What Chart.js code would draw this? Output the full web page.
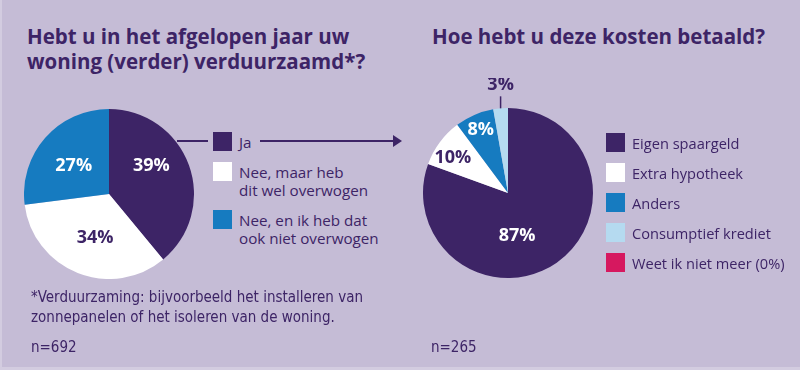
<!DOCTYPE html>
<html>
<head>
<meta charset="utf-8">
<script src="https://cdn.jsdelivr.net/npm/chart.js@4/dist/chart.umd.min.js"></script>
<style>
  html, body { margin: 0; padding: 0; }
  body {
    width: 800px; height: 370px; position: relative; overflow: hidden;
    background: #c5bcd6; font-family: "Open Sans", Lato, sans-serif; color: #3d2466;
  }
  .edge-l { position: absolute; left: 0; top: 0; width: 2px; height: 370px; background: #d3cce0; }
  .edge-b { position: absolute; left: 0; bottom: 0; width: 800px; height: 3px; background: #d3cce0; }
  .title { position: absolute; font-weight: 700; font-size: 20.5px; line-height: 25px; }
  .legend { position: absolute; display: flex; flex-direction: column; }
  .item { display: flex; align-items: flex-start; line-height: 18px; }
  .sw { width: 19px; height: 19px; flex: none; margin-right: 7px; }
  .item span { padding-top: 1px; }
  .note { position: absolute; font-family: "Liberation Sans Narrow", "DejaVu Sans Condensed", sans-serif; font-size: 15px; line-height: 20px; }
  canvas { position: absolute; }
</style>
</head>
<body>
<div class="edge-l"></div>
<div class="edge-b"></div>

<div class="title" style="left:27px; top:24px;">Hebt u in het afgelopen jaar uw<br>woning (verder) verduurzaamd*?</div>
<div class="title" style="left:432px; top:24px;">Hoe hebt u deze kosten betaald?</div>

<div style="position:absolute; left:393px; top:78px; width:230px; height:230px;"><canvas id="pieRight" width="230" height="230"></canvas></div>
<div style="position:absolute; left:24px; top:109px; width:170px; height:170px;"><canvas id="pieLeft" width="170" height="170"></canvas></div>

<div class="legend" id="legendLeft" style="left:213px; top:132px; gap:11px; font-size:15.2px;"></div>
<div class="legend" id="legendRight" style="left:606px; top:133px; gap:11px; font-size:14.6px;"></div>

<svg width="800" height="370" style="position:absolute; left:0; top:0; pointer-events:none;">
  <line x1="177" y1="141" x2="208" y2="141" stroke="#3d2466" stroke-width="2"/>
  <line x1="260" y1="141" x2="394" y2="141" stroke="#3d2466" stroke-width="2"/>
  <polygon points="393,135 402,141 393,147" fill="#3d2466"/>
</svg>

<div class="note" style="left:31px; top:287px;">*Verduurzaming: bijvoorbeeld het installeren van<br>zonnepanelen of het isoleren van de woning.</div>
<div class="note" style="left:31px; top:337px;">n=692</div>
<div class="note" style="left:431px; top:337px;">n=265</div>

<script>
// left question: did you make your home more sustainable
const leftLabels = ["Ja", "Nee, maar heb\ndit wel overwogen", "Nee, en ik heb dat\nook niet overwogen"];
const leftValues = [39, 34, 27];
const leftColors = ["#3d2466", "#ffffff", "#167bc0"];

// right question: how were the costs paid
const rightLabels = ["Eigen spaargeld", "Extra hypotheek", "Anders", "Consumptief krediet", "Weet ik niet meer (0%)"];
const rightValues = [87, 10, 8, 3, 0];
const rightColors = ["#3d2466", "#ffffff", "#167bc0", "#b5daf0", "#d6185f"];

const DARK = "#3d2466";

// where each % label sits (fraction of radius, angle nudge in degrees)
const labelPlace = {
  pieLeft: [
    { r: 0.6, shift: -14, color: "#ffffff" },
    { r: 0.54, shift: -4, color: DARK },
    { r: 0.53, shift: -3, color: "#ffffff" }
  ],
  pieRight: [
    { r: 0.52, shift: 23, color: "#ffffff" },
    { r: 0.77, shift: -4, color: DARK },
    { r: 0.81, shift: 0, color: "#ffffff" },
    { outside: true }
  ]
};

// draws the % labels on the slices
const sliceLabels = {
  id: "sliceLabels",
  afterDraw(chart) {
    const ctx = chart.ctx;
    const meta = chart.getDatasetMeta(0);
    const values = chart.data.datasets[0].data;
    const place = labelPlace[chart.canvas.id];
    ctx.save();
    ctx.font = "bold 18px 'Open Sans', sans-serif";
    ctx.textAlign = "center";
    ctx.textBaseline = "middle";
    meta.data.forEach((arc, i) => {
      const p = place[i];
      if (!p) return;
      const a = arc.getProps(["x", "y", "startAngle", "endAngle", "outerRadius"], true);
      const mid = (a.startAngle + a.endAngle) / 2 + (p.shift || 0) * Math.PI / 180;
      const txt = values[i] + "%";
      if (p.outside) {
        const x0 = a.x + Math.cos(mid) * a.outerRadius;
        const y0 = a.y + Math.sin(mid) * a.outerRadius;
        ctx.strokeStyle = DARK;
        ctx.lineWidth = 1.5;
        ctx.beginPath();
        ctx.moveTo(x0, y0);
        ctx.lineTo(x0, y0 - 12);
        ctx.stroke();
        ctx.fillStyle = DARK;
        ctx.fillText(txt, x0, y0 - 23);
        return;
      }
      const r = a.outerRadius * p.r;
      ctx.fillStyle = p.color;
      ctx.fillText(txt, a.x + Math.cos(mid) * r, a.y + Math.sin(mid) * r);
    });
    ctx.restore();
  }
};

function makePie(id, labels, values, colors, pad) {
  return new Chart(document.getElementById(id), {
    type: "pie",
    data: {
      labels: labels,
      datasets: [{ data: values, backgroundColor: colors, borderWidth: 0 }]
    },
    options: {
      responsive: false,
      animation: false,
      layout: { padding: pad },
      plugins: {
        legend: { display: false },
        tooltip: { enabled: false }
      }
    },
    plugins: [sliceLabels]
  });
}

makePie("pieLeft", leftLabels, leftValues, leftColors, 0);
makePie("pieRight", rightLabels, rightValues, rightColors, 30);

function buildLegend(id, labels, colors) {
  const box = document.getElementById(id);
  labels.forEach((lab, i) => {
    const item = document.createElement("div");
    item.className = "item";
    const sw = document.createElement("div");
    sw.className = "sw";
    sw.style.background = colors[i];
    const t = document.createElement("span");
    t.innerHTML = lab.replace("\n", "<br>");
    item.appendChild(sw);
    item.appendChild(t);
    box.appendChild(item);
  });
}

buildLegend("legendLeft", leftLabels, leftColors);
buildLegend("legendRight", rightLabels, rightColors);
</script>
</body>
</html>
